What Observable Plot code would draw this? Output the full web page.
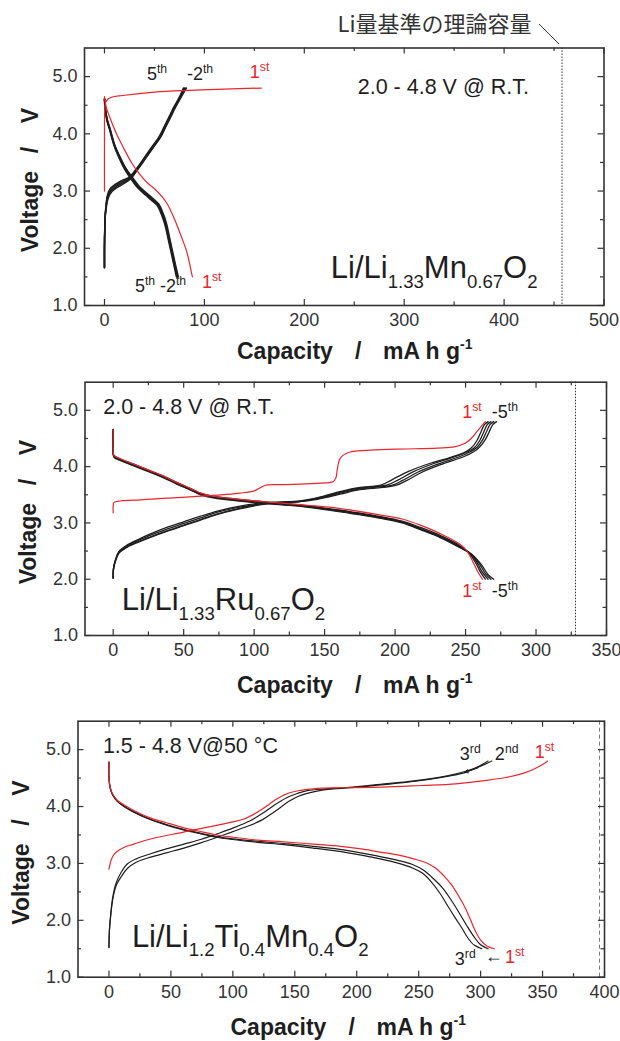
<!DOCTYPE html>
<html><head><meta charset="utf-8">
<script src="https://cdn.jsdelivr.net/npm/d3@7"></script>
<script src="https://cdn.jsdelivr.net/npm/@observablehq/plot@0.6"></script>
<style>
body{margin:0;background:#fff;}
#fig{width:620px;}
#fig svg{display:block;}
</style></head><body><div id="fig"></div>
<script>
// ---------- Panel 1 : Li/Li1.33Mn0.67O2 ----------
const mnCh1 = [[0,3.0],[0,4.0],[0.2,4.4],[1,4.54],[3,4.6],[7,4.64],[18,4.67],[50,4.73],[85,4.76],[120,4.78],[157,4.80]];
const mnDis1 = [[0,4.65],[2,4.45],[5.3,4.29],[12,4.0],[18.6,3.77],[27,3.5],[35,3.30],[43,3.14],[52,3.01],[62,2.80],[67,2.63],[72,2.43],[77,2.2],[82,1.96],[85,1.75],[87,1.58],[88,1.5]];
const mnCh2 = [[0,1.66],[0,2.0],[0.3,2.3],[1,2.6],[3.8,2.88],[7.5,2.99],[12.5,3.06],[18.5,3.12],[26,3.21],[33,3.37],[40,3.54],[48,3.74],[56.5,3.95],[61,4.11],[66.5,4.3],[71,4.46],[77,4.65],[82,4.8]];
const mnCh3 = [[0,1.66],[0,2.0],[0.3,2.32],[1,2.62],[3.5,2.9],[7,3.01],[12,3.08],[18,3.14],[25.5,3.22],[32.5,3.37],[39.5,3.54],[47.5,3.74],[56,3.95],[60.5,4.11],[66,4.3],[70.5,4.46],[76.5,4.65],[81,4.8]];
const mnCh4 = [[0,1.67],[0,2.02],[0.3,2.33],[1,2.63],[3.3,2.91],[6.5,3.03],[11.5,3.1],[17.5,3.16],[25,3.23],[32,3.37],[39,3.54],[47,3.74],[55.5,3.95],[60,4.11],[65.5,4.3],[70,4.46],[76,4.65],[80,4.8]];
const mnCh5 = [[0,1.67],[0,2.04],[0.3,2.35],[1,2.65],[3,2.93],[6,3.05],[11,3.12],[17,3.18],[24.5,3.24],[31.5,3.38],[38.5,3.55],[46.5,3.75],[55,3.96],[59.5,4.12],[65,4.31],[69.5,4.47],[75.5,4.66],[79,4.8]];
const mnDis2 = [[0,4.62],[0.8,4.45],[2.8,4.25],[5.3,4.11],[10,3.82],[15.5,3.6],[21,3.41],[27.5,3.25],[34.5,3.09],[42.5,2.96],[48.5,2.87],[54.5,2.77],[58.5,2.62],[62,2.44],[65,2.2],[68,1.96],[71,1.72],[74,1.5]];
const mnDis3 = [[0,4.61],[0.8,4.44],[2.8,4.24],[5.2,4.1],[10,3.81],[15.3,3.59],[21,3.4],[27,3.24],[34,3.08],[42,2.95],[48,2.86],[54,2.76],[58,2.61],[61.5,2.43],[64.5,2.2],[67.5,1.96],[70.5,1.72],[73,1.5]];
const mnDis4 = [[0,4.6],[0.8,4.43],[2.7,4.23],[5.1,4.09],[9.8,3.8],[15,3.58],[20.5,3.39],[26.5,3.23],[33.5,3.07],[41.5,2.94],[47.5,2.85],[53.5,2.75],[57.5,2.6],[61,2.42],[64,2.19],[67,1.95],[70,1.71],[72.5,1.5]];
const mnDis5 = [[0,4.6],[0.7,4.42],[2.6,4.22],[5,4.08],[9.6,3.79],[14.8,3.57],[20.2,3.38],[26.2,3.22],[33,3.06],[41,2.93],[47,2.84],[53,2.74],[57,2.59],[60.5,2.41],[63.5,2.18],[66.5,1.94],[69.5,1.7],[72,1.5]];
const mnTheory = 458;

// ---------- Panel 2 : Li/Li1.33Ru0.67O2 ----------
const ruCh1 = [[0,3.18],[0,3.3],[0.5,3.36],[5,3.39],[20,3.41],[38,3.44],[66,3.48],[90,3.53],[100,3.57],[104,3.62],[108,3.67],[120,3.68],[133,3.69],[150,3.71],[156,3.73],[158,3.8],[159,3.95],[160.5,4.12],[163,4.2],[168,4.26],[180,4.29],[200,4.31],[230,4.33],[242,4.35],[250,4.42],[254,4.5],[258,4.62],[262,4.74],[264,4.8]];
const ruCh2 = [[0,2.02],[0.3,2.2],[1.5,2.34],[4,2.49],[10,2.61],[18,2.71],[26,2.8],[38,2.92],[50,3.02],[62,3.12],[74,3.21],[88,3.29],[104,3.35],[118,3.37],[132,3.39],[145,3.45],[158,3.54],[172,3.62],[183,3.65],[190,3.67],[198,3.77],[210,3.92],[225,4.06],[240,4.17],[249,4.25],[254,4.33],[258,4.46],[261,4.62],[263.5,4.75],[266,4.8]];
const ruCh3 = [[0,2.02],[0.3,2.2],[1.6,2.33],[4,2.48],[10,2.6],[18,2.69],[26,2.78],[38,2.89],[50,2.99],[62,3.09],[74,3.19],[88,3.27],[104,3.34],[118,3.37],[132,3.38],[145,3.44],[159,3.53],[173,3.61],[186,3.65],[194,3.67],[202,3.76],[213,3.91],[228,4.06],[243,4.18],[251,4.26],[256,4.33],[260,4.46],[263,4.62],[265.5,4.75],[268,4.8]];
const ruCh4 = [[0,2.02],[0.3,2.2],[1.6,2.33],[4,2.47],[10,2.58],[18,2.67],[26,2.75],[38,2.86],[50,2.96],[62,3.06],[74,3.16],[88,3.25],[104,3.33],[118,3.36],[132,3.38],[145,3.43],[160,3.52],[174,3.6],[189,3.64],[198,3.67],[205,3.75],[216,3.9],[231,4.05],[246,4.18],[253,4.26],[258,4.34],[262,4.47],[265,4.63],[267.5,4.75],[270,4.8]];
const ruCh5 = [[0,2.02],[0.3,2.2],[1.6,2.32],[4,2.46],[10,2.57],[18,2.66],[26,2.74],[38,2.85],[50,2.95],[62,3.05],[74,3.15],[88,3.24],[104,3.32],[118,3.36],[132,3.38],[145,3.42],[161,3.51],[175,3.59],[191,3.63],[201,3.67],[208,3.75],[219,3.9],[234,4.05],[249,4.18],[256,4.27],[260,4.35],[264,4.48],[267,4.63],[269.5,4.75],[272,4.8]];
const ruDis1 = [[0,4.66],[0,4.3],[0.5,4.2],[5,4.14],[15,4.04],[26,3.93],[35,3.84],[45,3.72],[55,3.61],[62,3.53],[72,3.47],[85,3.43],[100,3.39],[110,3.37],[125,3.34],[140,3.31],[160,3.26],[190,3.14],[205,3.07],[218,2.96],[232,2.81],[246,2.62],[251,2.5],[255,2.32],[258.5,2.14],[262,2.0]];
const ruDis2 = [[0,4.66],[0,4.3],[0.5,4.2],[5,4.14],[15,4.04],[26,3.93],[35,3.84],[45,3.72],[55,3.61],[62,3.53],[72,3.47],[85,3.43],[100,3.39],[110,3.37],[125,3.34],[140,3.3],[160,3.23],[190,3.11],[205,3.03],[218,2.92],[232,2.78],[246,2.6],[252,2.48],[257,2.3],[260.5,2.13],[264,2.0]];
const ruDis3 = [[0,4.66],[0,4.3],[0.5,4.19],[5,4.13],[15,4.03],[26,3.92],[35,3.83],[45,3.71],[55,3.6],[62,3.52],[72,3.46],[85,3.42],[100,3.38],[110,3.36],[125,3.33],[140,3.29],[160,3.22],[190,3.1],[205,3.02],[218,2.9],[232,2.76],[246,2.58],[253,2.46],[258.5,2.28],[262,2.12],[266,2.0]];
const ruDis4 = [[0,4.66],[0,4.3],[0.5,4.18],[5,4.12],[15,4.02],[26,3.91],[35,3.82],[45,3.7],[55,3.59],[62,3.51],[72,3.45],[85,3.41],[100,3.37],[110,3.35],[125,3.32],[140,3.28],[160,3.21],[190,3.09],[205,3.01],[218,2.89],[232,2.75],[246,2.57],[254,2.45],[260,2.27],[264,2.1],[268,2.0]];
const ruDis5 = [[0,4.66],[0,4.3],[0.5,4.17],[5,4.11],[15,4.01],[26,3.9],[35,3.81],[45,3.69],[55,3.58],[62,3.5],[72,3.44],[85,3.4],[100,3.36],[110,3.34],[125,3.31],[140,3.27],[160,3.2],[190,3.08],[205,3.0],[218,2.88],[232,2.74],[246,2.56],[255,2.43],[261.5,2.25],[266,2.08],[270,2.0]];
const ruTheory = 328;

// ---------- Panel 3 : Li/Li1.2Ti0.4Mn0.4O2 ----------
const tiCh1 = [[0,2.9],[1,3.0],[2.7,3.11],[6,3.2],[12,3.28],[20,3.34],[33.6,3.43],[60,3.55],[87,3.67],[100,3.73],[109,3.78],[122,3.93],[130,4.05],[136,4.14],[142,4.21],[149,4.26],[160,4.3],[168,4.32],[187,4.33],[220,4.34],[252,4.37],[280,4.4],[305,4.46],[320,4.51],[332,4.57],[340,4.63],[346,4.69],[351,4.75],[354,4.8]];
const tiCh2 = [[0,1.52],[0.3,1.8],[1.4,2.11],[3,2.4],[5.5,2.64],[10,2.85],[14.8,2.99],[22,3.08],[33.6,3.17],[47,3.26],[60.5,3.34],[74,3.42],[87.4,3.52],[100,3.62],[114,3.75],[124,3.88],[133,4.02],[143.8,4.16],[152,4.23],[160,4.28],[175,4.31],[190,4.33],[219,4.39],[246,4.45],[273,4.54],[288,4.62],[300,4.71],[309,4.8]];
const tiCh3 = [[0,1.52],[0.3,1.8],[1.5,2.1],[3.3,2.4],[6,2.62],[10,2.77],[14.8,2.91],[22,3.02],[33.6,3.11],[47,3.19],[60.5,3.27],[74,3.36],[87.4,3.46],[100,3.56],[114,3.67],[124,3.77],[133,3.9],[146,4.1],[153,4.18],[160,4.23],[170,4.28],[181,4.31],[195,4.33],[219,4.38],[246,4.44],[273,4.53],[288,4.6],[298,4.7],[306,4.8]];
const tiDis1 = [[0,4.78],[0,4.5],[1,4.34],[3,4.22],[6.7,4.11],[12,4.03],[20,3.93],[32,3.81],[47,3.71],[60,3.63],[74,3.56],[87,3.5],[100,3.46],[120,3.41],[141,3.38],[165,3.34],[187,3.3],[205,3.25],[219,3.2],[235,3.14],[246,3.08],[255,3.02],[263,2.93],[270,2.79],[277,2.61],[283,2.4],[288,2.2],[292,2.0],[296,1.8],[300,1.65],[305,1.55],[311,1.5]];
const tiDis2 = [[0,4.78],[0,4.5],[1,4.33],[3,4.21],[6.7,4.1],[12,4.01],[20,3.91],[32,3.79],[47,3.68],[60,3.6],[74,3.53],[87,3.47],[100,3.43],[120,3.39],[141,3.35],[165,3.3],[192,3.23],[219,3.12],[234,3.05],[245,2.98],[254,2.88],[262,2.73],[270,2.55],[277,2.33],[283,2.12],[289,1.9],[295,1.7],[300,1.57],[306,1.5]];
const tiDis3 = [[0,4.78],[0,4.5],[1,4.32],[3,4.2],[6.7,4.09],[12,4.0],[20,3.9],[32,3.78],[47,3.67],[60,3.59],[74,3.52],[87,3.46],[100,3.42],[120,3.37],[141,3.33],[165,3.27],[192,3.19],[219,3.08],[234,3.0],[245,2.92],[253,2.83],[260,2.68],[267,2.48],[273,2.27],[279,2.06],[285,1.86],[290,1.68],[295,1.56],[301,1.5]];
const tiTheory = 396;
const tiArrow = [{x1: 298, y1: 4.68, x2: 287, y2: 4.6}];

// ---------- ticks ----------
const yMajor = [1, 2, 3, 4, 5];
const yMinor = [1.5, 2.5, 3.5, 4.5];
const mnXMajor = [0, 100, 200, 300, 400, 500];
const mnXMinor = [50, 150, 250, 350, 450];
const ruXMajor = [0, 50, 100, 150, 200, 250, 300, 350];
const ruXMinor = [25, 75, 125, 175, 225, 275, 325];
const tiXMajor = [0, 50, 100, 150, 200, 250, 300, 350, 400];
const tiXMinor = [25, 75, 125, 175, 225, 275, 325, 375];

// ---------- text annotations (data coords) ----------
const mnTexts = [
  {x: 43, y: 4.93, parts: [["5","n"],["th","sup"]], color: "blk"},
  {x: 83, y: 4.93, parts: [["-2","n"],["th","sup"]], color: "blk"},
  {x: 146, y: 4.97, parts: [["1","n"],["st","sup"]], color: "red"},
  {x: 31, y: 1.23, parts: [["5","n"],["th","sup"]], color: "blk"},
  {x: 56, y: 1.23, parts: [["-2","n"],["th","sup"]], color: "blk"},
  {x: 98, y: 1.30, parts: [["1","n"],["st","sup"]], color: "red"},
  {x: 254, y: 4.68, parts: [["2.0 - 4.8 V @ R.T.","n"]], color: "blk", size: 21.5},
  {x: 227, y: 1.47, parts: [["Li/Li","n"],["1.33","sub"],["Mn","n"],["0.67","sub"],["O","n"],["2","sub"]], color: "blk", size: 31}
];
const ruTexts = [
  {x: 248, y: 4.86, parts: [["1","n"],["st","sup"]], color: "red"},
  {x: 269, y: 4.86, parts: [["-5","n"],["th","sup"]], color: "blk"},
  {x: 248, y: 1.67, parts: [["1","n"],["st","sup"]], color: "red"},
  {x: 269, y: 1.67, parts: [["-5","n"],["th","sup"]], color: "blk"},
  {x: -6.7, y: 4.92, parts: [["2.0 - 4.8 V @ R.T.","n"]], color: "blk", size: 21.5},
  {x: 6.4, y: 1.44, parts: [["Li/Li","n"],["1.33","sub"],["Ru","n"],["0.67","sub"],["O","n"],["2","sub"]], color: "blk", size: 31}
];
const tiTexts = [
  {x: 283.6, y: 4.81, parts: [["3","n"],["rd","sup"]], color: "blk"},
  {x: 311.9, y: 4.81, parts: [["2","n"],["nd","sup"]], color: "blk"},
  {x: 344, y: 4.84, parts: [["1","n"],["st","sup"]], color: "red"},
  {x: 279.6, y: 1.21, parts: [["3","n"],["rd","sup"]], color: "blk"},
  {x: 303.8, y: 1.25, parts: [["←","n"]], color: "blk"},
  {x: 320, y: 1.24, parts: [["1","n"],["st","sup"]], color: "red"},
  {x: -4.5, y: 4.93, parts: [["1.5 - 4.8 V@50 °C","n"]], color: "blk", size: 21.5},
  {x: 18.9, y: 1.53, parts: [["Li/Li","n"],["1.2","sub"],["Ti","n"],["0.4","sub"],["Mn","n"],["0.4","sub"],["O","n"],["2","sub"]], color: "blk", size: 31}
];

const RED = "#e8262b", BLK = "#1e1e1e", AX = "#333";
const FONT = "'Liberation Sans', Arial, Helvetica, sans-serif";
const fig = d3.select("#fig");

function addText(g, x, y, parts, {size = 18, color = BLK, anchor = "start", weight = null, family = FONT} = {}) {
  const t = g.append("text").attr("x", x).attr("y", y).attr("fill", color)
    .attr("font-size", size).attr("font-family", family).attr("text-anchor", anchor);
  if (weight) t.attr("font-weight", weight);
  let shift = 0;
  for (const [s, k] of parts) {
    const ts = t.append("tspan").text(s);
    const target = k === "sup" ? -0.40 * size : k === "sub" ? 0.32 * size : 0;
    if (target - shift !== 0) ts.attr("dy", target - shift);
    shift = target;
    if (k === "sup") ts.attr("font-size", size * 0.68);
    if (k === "sub") ts.attr("font-size", size * 0.6);
  }
  return t;
}

function panel(cfg) {
  const W = 620;
  const {height, mt, mb, ml, mr} = cfg;
  const innerH = height - mt - mb, innerW = W - ml - mr;
  const marks = [
    Plot.ruleX([cfg.theory], {stroke: cfg.theoryStroke, strokeWidth: 1, strokeDasharray: cfg.theoryDash}),
    ...cfg.black.map(d => Plot.line(d, {x: p => p[0], y: p => p[1], stroke: BLK, strokeWidth: cfg.bw, curve: "catmull-rom"})),
    ...cfg.red.map(d => Plot.line(d, {x: p => p[0], y: p => p[1], stroke: RED, strokeWidth: 1.2, curve: "catmull-rom"})),
    // inward ticks on all four sides
    Plot.tickX(cfg.xMajor, {x: d => d, insetTop: innerH - 6, stroke: AX, strokeWidth: 1.2}),
    Plot.tickX(cfg.xMinor, {x: d => d, insetTop: innerH - 3.5, stroke: AX, strokeWidth: 1.2}),
    Plot.tickX(cfg.xMajor, {x: d => d, insetBottom: innerH - 6, stroke: AX, strokeWidth: 1.2}),
    Plot.tickX(cfg.xMinor, {x: d => d, insetBottom: innerH - 3.5, stroke: AX, strokeWidth: 1.2}),
    Plot.tickY(yMajor, {y: d => d, insetRight: innerW - 6, stroke: AX, strokeWidth: 1.2}),
    Plot.tickY(yMinor, {y: d => d, insetRight: innerW - 3.5, stroke: AX, strokeWidth: 1.2}),
    Plot.tickY(yMajor, {y: d => d, insetLeft: innerW - 6, stroke: AX, strokeWidth: 1.2}),
    Plot.tickY(yMinor, {y: d => d, insetLeft: innerW - 3.5, stroke: AX, strokeWidth: 1.2}),
    Plot.frame({stroke: AX, strokeWidth: 1.6}),
    Plot.axisX(cfg.xMajor, {anchor: "bottom", tickSize: 0, tickPadding: 8, label: null, fontSize: 18, fill: AX}),
    Plot.axisY(yMajor, {anchor: "left", tickSize: 0, tickPadding: 7, label: null, fontSize: 18, fill: AX, tickFormat: d3.format(".1f")})
  ];
  if (cfg.arrows) marks.push(Plot.arrow(cfg.arrows, {x1: "x1", y1: "y1", x2: "x2", y2: "y2", stroke: BLK, strokeWidth: 1, headLength: 6, headAngle: 50}));
  const svg = Plot.plot({
    width: W, height, marginTop: mt, marginBottom: mb, marginLeft: ml, marginRight: mr,
    x: {domain: cfg.xDomain}, y: {domain: [1, 5.5]},
    style: {fontFamily: FONT, background: "#fff", color: AX, overflow: "visible"},
    marks
  });
  const sx = svg.scale("x"), sy = svg.scale("y");
  const g = d3.select(svg).append("g").attr("text-anchor", "start");
  for (const t of cfg.texts) {
    addText(g, sx.apply(t.x), sy.apply(t.y), t.parts, {size: t.size || 18, color: t.color === "red" ? RED : BLK});
  }
  // axis titles
  const cy = mt + innerH / 2;
  const yl = g.append("text").attr("transform", `translate(${cfg.yLabelX},${cy + 76}) rotate(-90)`)
    .attr("text-anchor", "start").attr("font-family", FONT).attr("font-weight", "bold").attr("font-size", 23).attr("fill", BLK);
  yl.append("tspan").attr("x", 0).text("Voltage");
  yl.append("tspan").attr("x", 99).text("/");
  yl.append("tspan").attr("x", 129).text("V");
  const xs = cfg.xLabelShift;
  const xl = g.append("text").attr("y", cfg.xLabelY).attr("text-anchor", "start").attr("font-family", FONT).attr("font-weight", "bold")
    .attr("font-size", 23).attr("fill", BLK);
  xl.append("tspan").attr("x", 237 + xs).text("Capacity");
  xl.append("tspan").attr("x", 355 + xs).text("/");
  xl.append("tspan").attr("x", 383 + xs).text("mA h g");
  xl.append("tspan").attr("dy", -10).attr("font-size", 14).text("-1");
  fig.node().appendChild(svg);
  return {svg, sx, sy, g};
}

const p1 = panel({
  height: 368, mt: 47.5, mb: 63, ml: 84, mr: 16.5, xDomain: [-20, 500],
  xMajor: mnXMajor, xMinor: mnXMinor, theory: mnTheory, theoryStroke: "#333", theoryDash: "1.5,1.5",
  black: [mnCh5, mnCh4, mnCh3, mnCh2, mnDis5, mnDis4, mnDis3, mnDis2], red: [mnCh1, mnDis1], bw: 1.5,
  texts: mnTexts, yLabelX: 38, xLabelY: 359, xLabelShift: 0
});
// note about the theoretical capacity
{
  const xt = p1.sx.apply(mnTheory);
  addText(p1.g, xt - 30, 32, [["Li量基準の理論容量", "n"]], {size: 22, color: "#333", anchor: "end", family: "'Noto Sans CJK JP', sans-serif"});
  p1.g.append("line").attr("x1", xt - 22.5).attr("y1", 24).attr("x2", xt - 2.5).attr("y2", 44)
    .attr("stroke", "#333").attr("stroke-width", 1);
}

panel({
  height: 332, mt: 13.7, mb: 65, ml: 84.5, mr: 14, xDomain: [-20, 350],
  xMajor: ruXMajor, xMinor: ruXMinor, theory: ruTheory, theoryStroke: "#333", theoryDash: "1.5,1.5",
  black: [ruCh2, ruCh3, ruCh4, ruCh5, ruDis2, ruDis3, ruDis4, ruDis5], red: [ruCh1, ruDis1], bw: 1.3,
  texts: ruTexts, yLabelX: 36, xLabelY: 325, xLabelShift: 0
});

panel({
  height: 341, mt: 20.7, mb: 64.3, ml: 77.5, mr: 16, xDomain: [-25, 400],
  xMajor: tiXMajor, xMinor: tiXMinor, theory: tiTheory, theoryStroke: "#777", theoryDash: "4,3",
  black: [tiCh2, tiCh3, tiDis2, tiDis3], red: [tiCh1, tiDis1], bw: 1.2,
  texts: tiTexts, yLabelX: 29, xLabelY: 335, xLabelShift: -6.5, arrows: tiArrow
});
</script>
</body></html>
